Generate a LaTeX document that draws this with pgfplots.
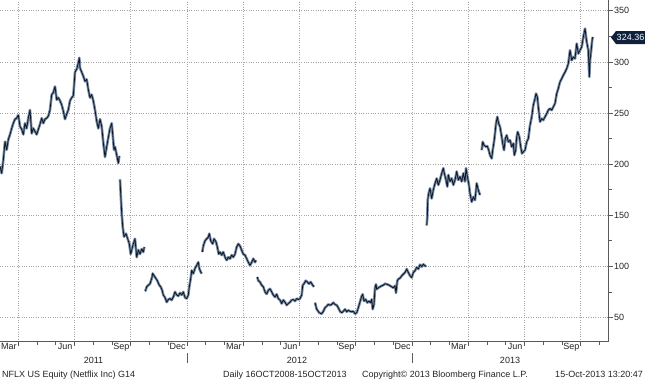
\documentclass[border=0pt]{standalone}
\usepackage{pgfplots}
\pgfplotsset{compat=1.18}
\usepackage{fontspec}
\setmainfont{Liberation Sans}
\definecolor{gridc}{RGB}{165,165,165}
\definecolor{navy}{RGB}{14,32,58}
\definecolor{linec}{RGB}{12,22,38}
\definecolor{barlight}{RGB}{120,140,165}
\definecolor{axisc}{RGB}{90,90,90}
\definecolor{txt}{RGB}{35,35,35}
\begin{document}
\begin{tikzpicture}[x=1bp,y=1bp,font=\fontsize{9bp}{10bp}\selectfont, text=txt]
\path[use as bounding box] (0,0) rectangle (645,380);
\begin{axis}[
  at={(0,37.5)}, anchor=south west,
  scale only axis, width=608.5bp, height=342.5bp,
  xmin=0, xmax=608.5, ymin=26.3, ymax=361.4,
  axis x line*=bottom, axis y line*=right,
  axis line style={axisc, line width=0.8bp},
  tick align=outside,
  major tick length=4bp, minor tick length=3bp,
  tick style={axisc, line width=0.7bp},
  xtick={18.25,74.5,130.75,187,243.25,299.5,355.75,412,468.25,524.5,580.75},
  xticklabels={},
  minor xtick={37,55.75,93.25,112,149.5,168.25,205.75,224.5,262,280.75,318.25,337,374.5,393.25,430.75,449.5,487,505.75,543.25,562,599.5},
  extra x ticks={8.9,65.1,121.4,177.6,233.9,290.1,346.4,402.6,458.9,515.1,571.4},
  extra x tick labels={Mar,Jun,Sep,Dec,Mar,Jun,Sep,Dec,Mar,Jun,Sep},
  extra x tick style={major tick length=0pt, grid=none, tick label style={inner sep=1.5bp}},
  ytick={50,100,150,200,250,300,350},
  yticklabels={50,100,150,200,250,300,350},
  minor ytick={75,125,175,225,275,325},
  yticklabel style={inner sep=1.5bp, text=txt},
  xticklabel style={text=txt},
  xmajorgrids, ymajorgrids,
  grid style={gridc, dotted, line width=0.7bp},
  clip=false,
  seg/.style={linec, line width=0.8bp, line join=round, mark=none, preaction={draw=barlight, line width=2.6bp}},
]
% segment 1
\addplot[seg] coordinates {(0,198)(1.7,191)(3.3,204)(5,222)(6.7,214)(8.3,224)(10,229)(11.7,235)(13.3,240)(15,244)(16.7,245)(18.3,248)(20,237)(21.7,234)(23.3,229)(25,240)(26.7,235)(28.3,245)(30,253)(31.7,230)(33.3,235)(35,232)(36.7,229)(38.3,234)(40,239)(41.7,245)(43.3,240)(45,244)(46.7,245)(48.3,247)(50,253)(51.7,268)(53.3,270)(55,276)(56.7,263)(58.3,265)(60,262)(61.7,258)(63.3,252)(65,244)(66.7,249)(68.3,253)(70,262)(71.7,265)(73.3,267)(74,276)(75,290)(76.7,293)(78.3,299)(79.3,304)(80,294)(81.7,290)(83.3,286)(85,281)(86.7,283)(88.3,273)(90,265)(91.7,268)(93.3,262)(95,253)(96.7,242)(98.3,235)(100,244)(101.7,237)(103.3,221)(105,207)(106.7,217)(108.3,226)(110,235)(111.7,240)(112.7,229)(114,214)(115,217)(116.7,209)(118.3,201)(119.3,208)};
% segment 2
\addplot[seg] coordinates {(120,185)(120.7,171)(121.7,152)(122.7,139)(124,129)(126,132)(127.7,127)(129.3,122)(130.7,112)(132,117)(133.3,122)(135,127)(136.7,109)(138.3,116)(140,112)(141.7,117)(143.3,114)(144.3,119)};
% segment 3
\addplot[seg] coordinates {(145.3,75.6)(146.7,80)(148.3,81.5)(150,83)(151.7,88)(152.7,93)(154,91)(156,88)(157.3,86)(159.3,81.5)(160.7,80)(162,77)(163.3,72)(165,69.5)(166.7,65)(168.3,67.5)(170,68.5)(171.7,67)(173.3,70)(175,75)(176.7,72)(178.3,71)(180,74)(181.7,72)(183.3,75)(185,69.5)(186.7,68.5)(188.3,72)(189.3,80)(190.7,88)(191.7,96)(193.3,93)(195,98)(196.7,101)(198.3,104)(199.3,98)(200.7,94.5)(201.7,93)};
% segment 4
\addplot[seg] coordinates {(202.3,114)(203.3,120)(205,125)(206.7,127)(208.3,128.6)(209.3,132)(210.7,125)(212.7,122)(214,127)(216,124)(217.3,119)(218.7,112)(220,114)(221.7,111)(223.3,114)(225,109)(226.7,106)(228.3,109)(230,107.5)(231.7,111)(233.3,109)(235,112)(236.7,119)(238.3,122)(240,120)(241.7,115.6)(243.3,112)(245,111)(246.7,107.5)(248.3,104)(250,101)(251.7,104)(253.3,107.5)(255,104)(256,106)};
% segment 5
\addplot[seg] coordinates {(257.3,89.6)(258.3,86)(260,84.7)(261.7,81.5)(263.3,80)(265,75)(266.7,73)(268.3,76.6)(270,78)(271.7,75)(273.3,72)(275,70)(276.7,72.7)(278.3,68.5)(280,67)(281.7,63.6)(283.3,67)(285,65)(286.7,62)(288.3,63.6)(290,65)(291.7,67)(293.3,67.5)(295,66)(296.7,68.5)(298.3,67.5)(300,68.5)(301.7,72)(302.7,81.5)(304,83)(305.7,86)(307.3,84.7)(309,83)(310.7,84.7)(312.7,81.5)(314,80)};
% segment 6
\addplot[seg] coordinates {(315,64.5)(316.7,58)(319.3,54.6)(321.7,53.6)(323.3,56)(325,59.5)(326.7,61)(328.3,62.8)(330,62)(331.7,62.8)(333.3,64.5)(335,62.8)(336.7,62)(338.3,59.5)(340,56)(341.7,54.6)(343.3,56)(345,58)(346.7,55.6)(348.3,57)(350,56)(351.7,55.6)(353.3,56)(355,53.6)(356.7,54.6)(358.3,59.5)(359.3,62.8)(360.7,67.7)(361.7,71)(362.7,72.7)(364,66)(365.7,67.7)(367.3,64.5)(369,66)(370.7,64.5)(371.7,67.7)(372.7,58)(374,62.8)(375,79)(376,82.5)(376.7,77.6)(378.3,79)(380,80)(381.7,81)(383.3,81.6)(385,83)(386.7,82.5)(388.3,82)(390,81)(391.7,80)(393.3,79)(395,81)(396,74)(397.3,86)(398.3,87.5)(400,88.5)(401.7,90.7)(403.3,92.4)(405,94)(406.7,97.4)(408.3,94)(410,90.7)(411.7,89)(413.3,94)(415,95.7)(416.7,99)(418.3,97.4)(420,101.6)(421.7,99.7)(423.3,102)(425,100.6)(426,99.7)};
% segment 7
\addplot[seg] coordinates {(426.7,140)(427.3,148.3)(427.7,164.8)(428.7,171.4)(430,176.3)(431.7,166.4)(433.3,174.7)(435,181.2)(436.7,186)(438.3,179.6)(440,184.5)(441.7,191)(443.3,196)(444.3,191)(446,184.5)(447.3,178)(448.3,189.5)(450,183)(451.7,186)(453.3,179.6)(455,184.5)(456.7,192.8)(458.3,184.5)(460,187.8)(461.7,183)(463.3,191)(465,183)(466,196)(467.3,187.8)(468.7,181.2)(470,171.4)(471.7,163)(473.3,168)(475,164.8)(476.7,181.2)(478.3,174.7)(480,169.7)};
% segment 8
\addplot[seg] coordinates {(481.7,213.7)(482.7,221.8)(484,218.6)(486,217)(487.3,217.6)(488.7,213.7)(490,208.8)(491.7,205.5)(492.7,213.7)(494,221.8)(495,230)(496,239.7)(497.3,246.3)(498.7,239.7)(500,236.5)(501.7,226.7)(502.7,220.2)(504,213.7)(505.3,225)(506.7,228.3)(508.3,221.8)(510,223.5)(511.7,217)(513.3,220.2)(514.3,208.8)(515.7,213.7)(516.7,226.7)(517.7,231.6)(519.3,226.7)(520.7,217)(522,210.4)(523.3,212)(525,213.7)(526.7,221.8)(528.3,225)(530,238)(531.7,246.3)(533.3,257.7)(535,264.2)(536,269)(537.3,265.8)(538.3,256)(540,241.4)(541.7,244.6)(543.3,243)(545,246.3)(546.7,249.5)(548.3,252.8)(550,254.4)(551.7,252.8)(553.3,256)(555,259.3)(556.7,269)(558.3,274)(560,280.5)(561.7,283.7)(563.3,287)(565,290)(566.7,293.5)(568.3,298.4)(570,311.4)(571.7,301.6)(573.3,304.9)(575,303.3)(576.7,317.9)(578.3,308.1)(580,311.4)(581.7,314.7)(583.3,324.4)(585,332.6)(586.7,319.5)(588.3,311.4)(589.3,285.3)(590,301.6)(591,309.8)(592.3,322.8)(593,324.36)};
\end{axis}
% last price tag
\fill[navy] (611,342.5) -- (616,349) -- (645,349) -- (645,336) -- (616,336) -- cycle;
\node[text=white, anchor=center, inner sep=0] at (630.5,342.5) {324.36};
% year labels and separators
\node[anchor=base, inner sep=0] at (93.5,17) {2011};
\node[anchor=base, inner sep=0] at (297,17) {2012};
\node[anchor=base, inner sep=0] at (510,17) {2013};
\draw[axisc, line width=0.7bp] (187,17) -- (187,27);
\draw[axisc, line width=0.7bp] (412,17) -- (412,27);
% footer
\node[anchor=base west, inner sep=0] at (2,3) {NFLX US Equity (Netflix Inc) G14};
\node[anchor=base west, inner sep=0] at (223,3) {Daily 16OCT2008-15OCT2013};
\node[anchor=base west, inner sep=0] at (362,3) {Copyright© 2013 Bloomberg Finance L.P.};
\node[anchor=base east, inner sep=0] at (643,3) {15-Oct-2013 13:20:47};
\end{tikzpicture}
\end{document}
